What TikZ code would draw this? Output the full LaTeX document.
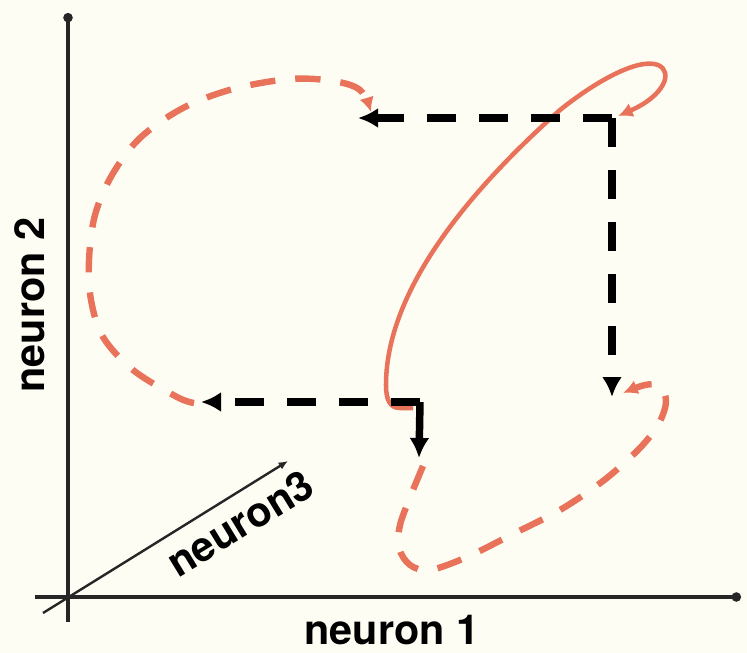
\documentclass[tikz,border=0pt]{standalone}
\usepackage{fontspec}
\setmainfont{TeX Gyre Heros}
\usetikzlibrary{arrows.meta,positioning}
\definecolor{trajred}{HTML}{E8735A}
\definecolor{paper}{HTML}{FDFDF4}
\tikzset{
  >={Latex[length=15pt,width=15pt]},
  % achsen
  ax/.style={draw=black!85,line width=2.6pt},
  axlbl/.style={font=\fontsize{31}{34}\selectfont\bfseries,inner sep=0pt},
  % bahnen
  traj/.style={draw=trajred,line width=3.4pt,-{Latex[length=11pt,width=11pt]}},
  trajd/.style={traj,line width=4.8pt,dash pattern=on 19pt off 15pt},
  jmp/.style={->,draw=black,line width=5.6pt,dash pattern=on 22pt off 17pt},
}
\begin{document}
\begin{tikzpicture}[x=0.75pt,y=-0.75pt]
  \fill[paper] (0,0) rectangle (747,653);
  \useasboundingbox (0,0) rectangle (747,653);
  % achsen
  \coordinate (o) at (68,597);
  \coordinate (ylo) at (68,622);
  \coordinate (yhi) at (68,13);
  \coordinate (xlo) at (35,597);
  \coordinate (xhi) at (741,597);
  \coordinate (zlo) at (43,613);
  \coordinate (zhi) at (288,461);
  \draw[ax,-{Circle[length=7pt]}] (ylo) -- (yhi);
  \draw[ax,-{Circle[length=7pt]}] (xlo) -- (xhi);
  \draw[ax,line width=1.8pt,-{Latex[length=7pt,width=6pt]}] (zlo) -- (zhi);
  \node[axlbl] (n1) at (392,630) {neuron 1};
  \node[axlbl,rotate=90] (n2) at (30,305) {neuron 2};
  \node[axlbl,rotate=31.5] (n3) at (240,523) {neuron3};
  % bahn
  \draw[traj] (413,408) -- (400,408) .. controls (390,408) and (386,400) .. (386,385)
    .. controls (386,290) and (470,190) .. (560,110)
    .. controls (600,78) and (640,58) .. (658,65)
    .. controls (674,72) and (664,96) .. (618,116);
  \draw[trajd] plot[smooth,tension=0.55] coordinates {(194,403) (177,397) (133,370)
    (103,337) (91,300) (89,260) (95,215) (112,175) (140,138) (183,108) (233,89)
    (290,79) (333,81) (360,90) (371,112)};
  \draw[trajd] plot[smooth,tension=0.55] coordinates {(423,466) (411,495) (400,525)
    (399,548) (410,565) (430,570) (467,557) (513,534) (560,510) (603,481)
    (638,450) (658,425) (666,402) (660,386) (645,385) (623,393)};
  % spruenge
  \coordinate (c1) at (612,118);
  \coordinate (t1) at (358,118);
  \coordinate (b1) at (612,397);
  \coordinate (c2) at (420,402);
  \coordinate (d2) at (393,402);
  \coordinate (t2) at (201,402);
  \coordinate (b2) at (419,458);
  \draw[jmp] (c1) -- (t1);
  \draw[jmp] (c1) -- (b1);
  \draw[jmp] (c2) -- (t2);
  \draw[black,line width=5.6pt] (d2) -- (c2);
  \draw[jmp,dash pattern=] (c2) -- (b2);
\end{tikzpicture}
\end{document}
